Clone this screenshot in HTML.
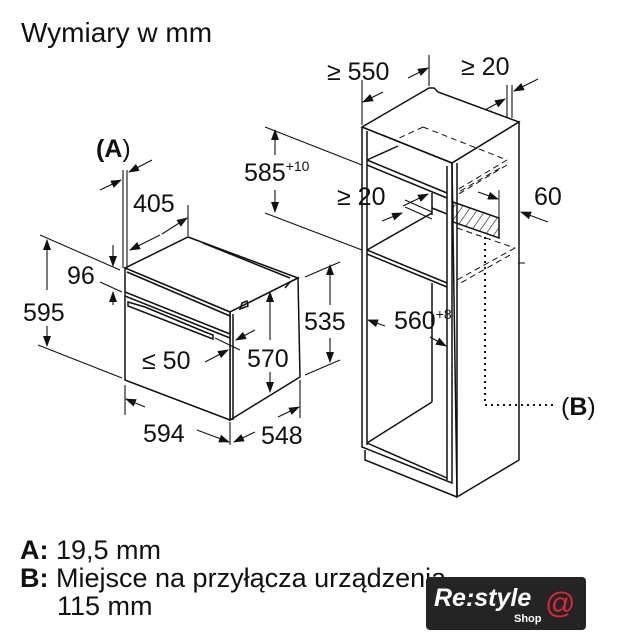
<!DOCTYPE html>
<html><head><meta charset="utf-8"><style>
html,body{margin:0;padding:0;background:#fff;}
svg{display:block;}
text{font-family:"Liberation Sans",sans-serif;fill:#111;}
</style></head><body>
<svg width="623" height="640" viewBox="0 0 623 640" xmlns="http://www.w3.org/2000/svg">
<defs>
<marker id="ar" markerWidth="11" markerHeight="10" refX="10" refY="5" orient="auto" markerUnits="userSpaceOnUse"><path d="M0,1 L11,5 L0,9 Z" fill="#111"/></marker>
<pattern id="hatch" width="7" height="7" patternUnits="userSpaceOnUse" patternTransform="rotate(35)"><line x1="0" y1="0" x2="0" y2="7" stroke="#111" stroke-width="1.2"/></pattern>
</defs>
<text x="21" y="42" font-size="28">Wymiary w mm</text>

<g stroke="#111" fill="none" stroke-width="1.5">
<polygon points="125,268 188,237 298,278 230,312" fill="#fff"/>
<polygon points="230,312 298,278 300,377 230,420" fill="#fff"/>
<polygon points="125,268 230,312 230,420 125,380" fill="#fff"/>
<line x1="127" y1="272" x2="230" y2="316"/>
<line x1="125" y1="292" x2="230" y2="334"/>
<line x1="125" y1="296" x2="230" y2="338"/>
<polygon points="128,302 145,307 205,332 213,335 213,339 128,306"/>
<line x1="233" y1="314" x2="233" y2="420"/>
<line x1="203" y1="243" x2="290" y2="278"/>
<path d="M240,309 L248,306 L247,301 L242,303 Z"/>
<path d="M285,288 L290,282 L298,278"/>
</g>
<g stroke="#111" fill="none" stroke-width="1.1">
<line x1="123" y1="170" x2="123" y2="268"/>
<line x1="127" y1="170" x2="127" y2="268"/>
<line x1="100" y1="190" x2="121" y2="180" marker-end="url(#ar)"/>
<line x1="152" y1="160" x2="129" y2="172" marker-end="url(#ar)"/>
<line x1="188" y1="205" x2="188" y2="236"/>
<line x1="160" y1="235" x2="130" y2="250" marker-end="url(#ar)"/>
<line x1="162" y1="234" x2="187" y2="218" marker-end="url(#ar)"/>
<line x1="40" y1="235" x2="120" y2="270"/>
<line x1="38" y1="345" x2="122" y2="378"/>
<line x1="47" y1="290" x2="47" y2="240" marker-end="url(#ar)"/>
<line x1="47" y1="326" x2="47" y2="346" marker-end="url(#ar)"/>
<line x1="100" y1="282" x2="122" y2="292"/>
<line x1="113" y1="245" x2="113" y2="266" marker-end="url(#ar)"/>
<line x1="113" y1="305" x2="113" y2="292" marker-end="url(#ar)"/>
<line x1="125" y1="385" x2="125" y2="415"/>
<line x1="230" y1="422" x2="230" y2="445"/>
<line x1="300" y1="380" x2="300" y2="418"/>
<line x1="145" y1="407" x2="126" y2="399" marker-end="url(#ar)"/>
<line x1="197" y1="430" x2="229" y2="442" marker-end="url(#ar)"/>
<line x1="255" y1="432" x2="234" y2="442" marker-end="url(#ar)"/>
<line x1="278" y1="417" x2="299" y2="407" marker-end="url(#ar)"/>
<line x1="270" y1="340" x2="270" y2="292" marker-end="url(#ar)"/>
<line x1="270" y1="372" x2="270" y2="392" marker-end="url(#ar)"/>
<line x1="305" y1="277" x2="340" y2="262"/>
<line x1="305" y1="375" x2="340" y2="360"/>
<line x1="330" y1="305" x2="330" y2="265" marker-end="url(#ar)"/>
<line x1="330" y1="338" x2="330" y2="362" marker-end="url(#ar)"/>
<line x1="205" y1="362" x2="228" y2="350" marker-end="url(#ar)"/>
<line x1="255" y1="330" x2="236" y2="340" marker-end="url(#ar)"/>
<line x1="215" y1="338" x2="240" y2="350"/>
<line x1="265" y1="127" x2="362" y2="165"/>
<line x1="265" y1="213" x2="362" y2="250"/>
<line x1="275" y1="155" x2="275" y2="130" marker-end="url(#ar)"/>
<line x1="275" y1="190" x2="275" y2="212" marker-end="url(#ar)"/>
</g>
<g stroke="#111" fill="none" stroke-width="1.5">
<polygon points="362,127 429,88 434,88 438,92 519,122 452,163" fill="#fff"/>
<polygon points="452,163 519,122 519,460 457,497" fill="#fff"/>
<polyline points="362,127 362,447 452,483 452,163 362,127"/>
<line x1="367" y1="131" x2="367" y2="445"/>
<line x1="447" y1="166" x2="447" y2="480"/>
<line x1="457" y1="163" x2="457" y2="497"/>
<polyline points="365,450 365,460 457,497"/>
<line x1="367" y1="160" x2="447" y2="193"/>
<line x1="367" y1="165" x2="447" y2="198"/>
<line x1="367" y1="160" x2="398" y2="146"/>
<line x1="367" y1="250" x2="447" y2="283"/>
<line x1="367" y1="254" x2="447" y2="287"/>
<line x1="367" y1="250" x2="432" y2="213"/>
<line x1="367" y1="443" x2="447" y2="478"/>
<line x1="367" y1="443" x2="432" y2="402"/>
<line x1="432" y1="193" x2="432" y2="215"/>
<line x1="432" y1="283" x2="432" y2="402"/>
<line x1="432" y1="208" x2="447" y2="214"/>
<polygon points="453,202 499,218 499,238 453,222" fill="url(#hatch)"/>
<line x1="499" y1="190" x2="499" y2="218" stroke-width="1"/>
<line x1="518" y1="263" x2="525" y2="263" stroke-width="1"/>
</g>
<g stroke="#111" fill="none" stroke-width="1" stroke-dasharray="6,4">
<line x1="423" y1="127" x2="507" y2="160"/>
<line x1="423" y1="127" x2="395" y2="140"/>
<line x1="507" y1="160" x2="457" y2="190"/>
<line x1="507" y1="165" x2="457" y2="195"/>
<line x1="500" y1="168" x2="457" y2="193"/>
<line x1="457" y1="228" x2="515" y2="248"/>
<line x1="515" y1="248" x2="457" y2="280"/>
<line x1="510" y1="255" x2="457" y2="285"/>
</g>
<polyline points="485,237 485,405 555,405" stroke="#111" fill="none" stroke-width="2" stroke-dasharray="2,4"/>
<g stroke="#111" fill="none" stroke-width="1.1">
<line x1="362" y1="80" x2="362" y2="125"/>
<line x1="429" y1="55" x2="429" y2="86"/>
<line x1="383" y1="92" x2="363" y2="102" marker-end="url(#ar)"/>
<line x1="408" y1="78" x2="428" y2="68" marker-end="url(#ar)"/>
<line x1="507" y1="85" x2="507" y2="118"/>
<line x1="512" y1="85" x2="512" y2="118"/>
<line x1="485" y1="110" x2="505" y2="99" marker-end="url(#ar)"/>
<line x1="538" y1="79" x2="514" y2="91" marker-end="url(#ar)"/>
<line x1="403" y1="206" x2="428" y2="194" marker-end="url(#ar)"/>
<line x1="382" y1="221" x2="402" y2="213" marker-end="url(#ar)"/>
<line x1="405" y1="200" x2="432" y2="212"/>
<line x1="405" y1="207" x2="432" y2="219"/>
<line x1="478" y1="192" x2="498" y2="199" marker-end="url(#ar)"/>
<line x1="548" y1="222" x2="521" y2="212" marker-end="url(#ar)"/>
<line x1="385" y1="326" x2="368" y2="320" marker-end="url(#ar)"/>
<line x1="430" y1="337" x2="446" y2="346" marker-end="url(#ar)"/>
</g>

<text x="96" y="157" font-size="25"><tspan font-weight="bold">(A</tspan>)</text>
<text x="133" y="212" font-size="25">405</text>
<text x="67" y="284" font-size="25">96</text>
<text x="23" y="321" font-size="25">595</text>
<text x="142" y="369" font-size="25">≤ 50</text>
<text x="247" y="367" font-size="25">570</text>
<text x="304" y="330" font-size="25">535</text>
<text x="143" y="442" font-size="25">594</text>
<text x="261" y="444" font-size="25">548</text>
<text x="244" y="181" font-size="25">585<tspan font-size="14" dy="-10">+10</tspan></text>
<text x="327" y="80" font-size="25">≥ 550</text>
<text x="461" y="75" font-size="25">≥ 20</text>
<text x="337" y="205" font-size="25">≥ 20</text>
<text x="534" y="205" font-size="25">60</text>
<text x="394" y="329" font-size="25">560<tspan font-size="14" dy="-10">+8</tspan></text>
<text x="561" y="415" font-size="25">(<tspan font-weight="bold">B</tspan>)</text>

<text x="20" y="559" font-size="27"><tspan font-weight="bold">A:</tspan> 19,5 mm</text>
<text x="20" y="587" font-size="27"><tspan font-weight="bold">B:</tspan> Miejsce na przyłącza urządzenia</text>
<text x="57" y="615" font-size="27">115 mm</text>
<rect x="426" y="577" width="160" height="53" rx="4" fill="#242424"/>
<text x="434" y="606" font-size="25" font-style="italic" font-weight="bold" style="fill:#fff">Re:style</text>
<text x="514" y="622" font-size="11" font-weight="bold" style="fill:#fff">Shop</text>
<text x="545" y="613" font-size="30" style="fill:#d8283a">@</text>
</svg>
</body></html>
